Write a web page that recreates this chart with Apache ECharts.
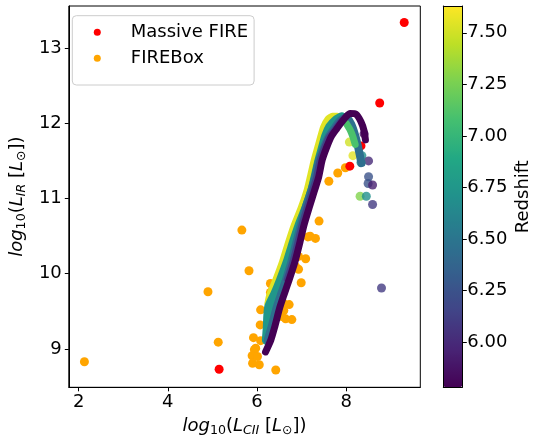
<!DOCTYPE html>
<html><head><meta charset="utf-8">
<script src="https://cdn.jsdelivr.net/npm/echarts@6.0.0/dist/echarts.min.js"></script>
<style>html,body{margin:0;padding:0;background:#fff;}#c{width:537px;height:445px;}</style>
</head><body><div id="c"></div>
<script>
// ---------- data ----------
const xTicks = [2, 4, 6, 8];
const yTicks = [9, 10, 11, 12, 13];
const zTicks = [6.00, 6.25, 6.50, 6.75, 7.00, 7.25, 7.50];
const xRange = [1.78, 9.66];
const yRange = [8.49, 13.56];
const zRange = [5.78, 7.63];

const massiveFire = [[9.30,13.34],[8.75,12.27],[8.33,11.70],[8.08,11.43],[5.15,8.73]];

const fireBox = [
 [2.13,8.83],[4.90,9.76],[5.13,9.09],[5.66,10.58],[5.82,10.04],
 [7.98,11.41],[7.81,11.34],[7.61,11.23],[7.39,10.70],[6.99,10.60],
 [7.14,10.49],[7.19,10.50],[7.31,10.47],[6.77,10.34],[6.70,10.30],
 [6.88,10.28],[6.93,10.23],[7.09,10.20],[6.82,10.17],[6.86,10.10],
 [6.93,10.06],[6.66,10.03],[6.99,9.88],[6.30,9.87],[6.43,9.86],
 [6.36,9.80],[6.30,9.75],[6.59,9.61],[6.72,9.59],[6.08,9.52],
 [6.36,9.52],[6.60,9.51],[6.56,9.43],[6.78,9.39],[6.28,9.39],
 [6.64,9.40],[6.07,9.32],[5.92,9.15],[6.08,9.11],[5.97,9.01],
 [5.94,8.99],[5.89,8.91],[6.01,8.90],[5.90,8.81],[6.05,8.79],[6.42,8.72]
];

// isolated redshift-coloured points: [x, y, redshift]
const redshiftPoints = [
 [8.40,11.86,5.85],[8.35,11.57,6.70],[8.50,11.50,6.00],[8.15,11.57,7.55],
 [8.07,11.75,7.50],[8.33,11.48,6.70],[8.50,11.29,6.25],[8.49,11.20,6.25],
 [8.59,11.18,5.95],[8.31,11.03,7.28],[8.45,11.03,6.70],[8.59,10.92,6.10],
 [8.79,9.81,6.10],[7.72,11.99,7.30]
];

// dense redshift tracks (the band), read along each colour stripe
const zYellow = 7.55, zTealLight = 6.75, zTealDark = 6.45, zGreen = 7.10, zDarkBlue = 6.15, zPurple = 5.78;
const trackYellow = [[6.23,9.60],[6.28,9.73],[6.41,9.92],[6.56,10.16],[6.68,10.39],[6.82,10.64],[6.98,10.88],[7.11,11.11],[7.18,11.28],[7.27,11.51],[7.35,11.68],[7.42,11.83],[7.48,11.95],[7.58,12.06],[7.69,12.10],[7.80,12.10],[7.89,12.06]];
const trackTealLight = [[6.22,9.12],[6.24,9.28],[6.27,9.55],[6.41,9.73],[6.54,9.92],[6.69,10.16],[6.81,10.39],[6.95,10.64],[7.11,10.88],[7.24,11.11],[7.31,11.28],[7.40,11.51],[7.48,11.68],[7.55,11.83],[7.64,11.95],[7.78,12.04],[7.90,12.08]];
const trackTealDark = [[6.24,9.12],[6.32,9.28],[6.44,9.55],[6.54,9.73],[6.65,9.92],[6.77,10.16],[6.87,10.39],[6.98,10.64],[7.09,10.88],[7.22,11.11],[7.30,11.28],[7.39,11.51],[7.50,11.68],[7.61,11.83],[7.73,11.93],[7.85,12.03],[8.00,12.08],[8.11,11.99],[8.20,11.84],[8.26,11.70],[8.31,11.56],[8.34,11.47]];
const trackGreen = [[8.00,12.00],[8.09,11.91],[8.15,11.82],[8.20,11.72]];
const trackDarkBlue = [[6.63,9.92],[6.76,10.16],[6.86,10.39],[6.96,10.64],[7.08,10.88],[7.20,11.11],[7.29,11.28],[7.37,11.51],[7.47,11.68],[7.58,11.83],[7.71,11.93],[7.86,12.05],[8.02,12.13]];
const trackPurple = [[6.19,8.96],[6.31,9.12],[6.39,9.28],[6.51,9.55],[6.61,9.73],[6.72,9.92],[6.85,10.16],[6.95,10.39],[7.05,10.64],[7.17,10.88],[7.29,11.11],[7.38,11.28],[7.46,11.51],[7.56,11.68],[7.67,11.83],[7.79,11.93],[7.93,12.04],[8.08,12.13],[8.22,12.12],[8.33,12.02],[8.40,11.90],[8.43,11.78]];

// ---------- styling ----------
const VIRIDIS = ['#440154','#482475','#414487','#355f8d','#2a788e','#21918c','#22a884','#44bf70','#7ad151','#bddf26','#fde725'];
function viridis(z){
  let t = (z - zRange[0]) / (zRange[1] - zRange[0]);
  t = Math.max(0, Math.min(1, t));
  const f = t * (VIRIDIS.length - 1), i = Math.min(VIRIDIS.length - 2, Math.floor(f)), r = f - i;
  const a = VIRIDIS[i], b = VIRIDIS[i+1];
  const c = k => Math.round(parseInt(a.substr(k,2),16)*(1-r) + parseInt(b.substr(k,2),16)*r);
  return 'rgb(' + c(1) + ',' + c(3) + ',' + c(5) + ')';
}
const FONT = 'DejaVu Sans';
const richMath = {
  i: {fontFamily: FONT, fontStyle: 'italic', fontSize: 18, lineHeight: 22, color: '#000'},
  n: {fontFamily: FONT, fontSize: 18, lineHeight: 22, color: '#000'},
  s: {fontFamily: FONT, fontSize: 12.6, lineHeight: 14, verticalAlign: 'bottom', color: '#000'},
  si: {fontFamily: FONT, fontStyle: 'italic', fontSize: 12.6, lineHeight: 14, verticalAlign: 'bottom', color: '#000'}
};

function track(data, z, width){
  const col = viridis(z);
  return {type: 'line', data: data, showSymbol: false, smooth: 0.2, silent: true,
    xAxisIndex: 0, yAxisIndex: 0,
    lineStyle: {color: col, width: width, cap: 'round', join: 'round'}, itemStyle: {color: col}};
}

const black = {color: '#000', width: 1};
const series = [
  track(trackYellow, zYellow, 6),
  track(trackTealLight, zTealLight, 10),
  track(trackTealDark, zTealDark, 8),
  track(trackGreen, zGreen, 7),
  track(trackDarkBlue, zDarkBlue, 3),
  track(trackPurple, zPurple, 7),
  {type: 'scatter', name: 'redshift', data: redshiftPoints, symbolSize: 9, silent: true, xAxisIndex: 0, yAxisIndex: 0},
  {type: 'scatter', name: 'FIREBox', data: fireBox, symbolSize: 9, itemStyle: {color: '#ffa500', opacity: 1}, silent: true, xAxisIndex: 0, yAxisIndex: 0},
  {type: 'scatter', name: 'Massive FIRE', data: massiveFire, symbolSize: 9, itemStyle: {color: '#ff0000', opacity: 1}, silent: true, xAxisIndex: 0, yAxisIndex: 0}
];

const option = {
  animation: false,
  textStyle: {fontFamily: FONT},
  grid: [
    {left: 63.3, top: 6, width: 357, height: 381.3, show: true, borderColor: '#000', borderWidth: 1, backgroundColor: 'transparent'},
    {left: 443.3, top: 6, width: 19, height: 381.3, show: false}
  ],
  xAxis: [
    {type: 'value', gridIndex: 0, min: xRange[0], max: xRange[1],
     axisLine: {show: true, onZero: false, lineStyle: black},
     axisTick: {show: true, length: 4, customValues: xTicks, lineStyle: black},
     axisLabel: {customValues: xTicks, fontSize: 18, color: '#000', margin: 6, fontFamily: FONT},
     splitLine: {show: false},
     name: '{i|log}{s|10}{n|(}{i|L}{si|CII}{n| [}{i|L}{s|⊙}{n|])}',
     nameLocation: 'middle', nameGap: 28,
     nameTextStyle: {rich: richMath, color: '#000'}},
    {type: 'value', gridIndex: 1, min: 0, max: 1, position: 'bottom', z: 10,
     axisLine: {show: true, onZero: false, lineStyle: black}, axisTick: {show: false}, axisLabel: {show: false}, splitLine: {show: false}},
    {type: 'value', gridIndex: 1, min: 0, max: 1, position: 'top', z: 10,
     axisLine: {show: true, onZero: false, lineStyle: black}, axisTick: {show: false}, axisLabel: {show: false}, splitLine: {show: false}}
  ],
  yAxis: [
    {type: 'value', gridIndex: 0, min: yRange[0], max: yRange[1],
     axisLine: {show: true, onZero: false, lineStyle: black},
     axisTick: {show: true, length: 4, customValues: yTicks, lineStyle: black},
     axisLabel: {customValues: yTicks, fontSize: 18, color: '#000', margin: 7, fontFamily: FONT},
     splitLine: {show: false},
     name: '{i|log}{s|10}{n|(}{i|L}{si|IR}{n| [}{i|L}{s|⊙}{n|])}',
     nameLocation: 'middle', nameGap: 37, nameRotate: 90,
     nameTextStyle: {rich: richMath, color: '#000'}},
    {type: 'value', gridIndex: 1, min: zRange[0], max: zRange[1], position: 'right', z: 10,
     axisLine: {show: true, onZero: false, lineStyle: black},
     axisTick: {show: true, length: 4.5, customValues: zTicks, lineStyle: black},
     axisLabel: {customValues: zTicks, fontSize: 18, color: '#000', margin: 5, fontFamily: FONT,
                 formatter: v => Number(v).toFixed(2)},
     splitLine: {show: false},
     name: 'Redshift', nameLocation: 'middle', nameGap: 52, nameRotate: 90,
     nameTextStyle: {fontSize: 18, color: '#000', fontFamily: FONT}},
    {type: 'value', gridIndex: 1, min: zRange[0], max: zRange[1], position: 'left', z: 10,
     axisLine: {show: true, onZero: false, lineStyle: black}, axisTick: {show: false}, axisLabel: {show: false}, splitLine: {show: false}}
  ],
  visualMap: {
    type: 'continuous', min: zRange[0], max: zRange[1], dimension: 2, seriesIndex: [6],
    inRange: {color: VIRIDIS}, orient: 'vertical', left: 443.3, top: 6,
    itemWidth: 19, itemHeight: 381.3, padding: 0, calculable: false, hoverLink: false
  },
  legend: {
    data: ['Massive FIRE', 'FIREBox'], orient: 'vertical', left: 72.3, top: 15.7,
    padding: [7.6, 6, 17.7, 21.5], itemWidth: 7, itemHeight: 7, itemGap: 8, icon: 'circle',
    backgroundColor: 'rgba(255,255,255,0.8)', borderColor: '#cccccc', borderWidth: 1, borderRadius: 4,
    selectedMode: false,
    textStyle: {fontSize: 18, color: '#000', lineHeight: 18, padding: [0, 0, 0, 25], fontFamily: FONT}
  },
  series: series
};

const chart = echarts.init(document.getElementById('c'), null, {renderer: 'canvas'});
chart.setOption(option);
</script>
</body></html>
